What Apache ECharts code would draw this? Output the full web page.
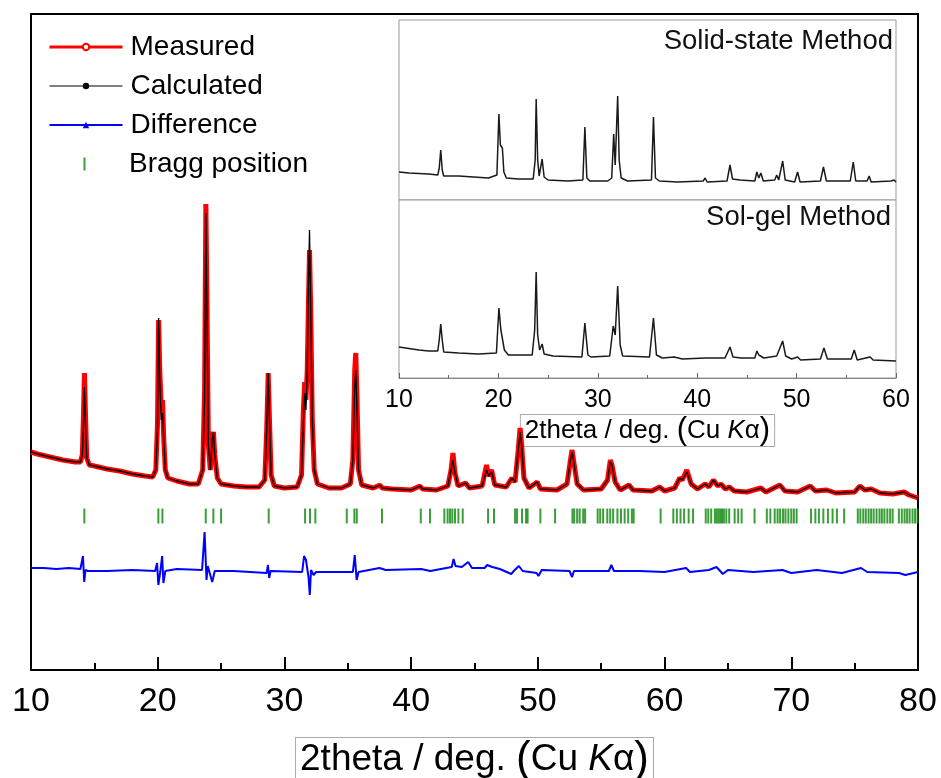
<!DOCTYPE html>
<html>
<head>
<meta charset="utf-8">
<title>XRD Rietveld refinement</title>
<script src="https://cdn.jsdelivr.net/npm/echarts@6.0.0/dist/echarts.min.js"></script>
<style>
  html, body { margin: 0; padding: 0; background: #fff; }
  #chart { width: 941px; height: 778px; }
</style>
</head>
<body>
<div id="chart"></div>
<script>
// main pattern: 2theta (deg) and intensity (a.u.)
const twoTheta = [
  10.0, 10.5, 11.0, 11.5, 12.0, 12.5, 13.0, 13.5, 13.9, 14.05, 14.13, 14.22, 14.31, 14.4, 14.6, 15.0,
  16.0, 17.0, 18.0, 19.0, 19.6, 19.85, 19.98, 20.07, 20.16, 20.28, 20.38, 20.48, 20.6, 20.8, 21.5, 22.5,
  23.2, 23.55, 23.7, 23.8, 23.9, 24.0, 24.15, 24.3, 24.4, 24.5, 24.7, 25.0, 26.0, 27.0, 28.0, 28.45,
  28.6, 28.72, 28.82, 28.95, 29.2, 30.0, 31.0, 31.35, 31.5, 31.6, 31.7, 31.8, 31.9, 31.98, 32.06, 32.2,
  32.35, 32.6, 33.5, 34.5, 35.2, 35.4, 35.55, 35.63, 35.72, 35.85, 36.1, 37.0, 37.55, 37.7, 38.5, 40.0,
  40.7, 40.9, 42.0, 42.9, 43.15, 43.3, 43.45, 43.7, 44.3, 44.6, 45.6, 45.95, 46.1, 46.35, 46.6, 47.5,
  47.95, 48.2, 48.45, 48.6, 48.72, 48.9, 49.3, 49.95, 50.2, 51.5, 52.3, 52.55, 52.7, 52.85, 53.1, 53.6,
  55.0, 55.5, 55.72, 55.85, 56.1, 56.5, 57.2, 57.5, 59.0, 59.6, 60.0, 60.8, 61.2, 61.4, 61.75, 62.1,
  62.6, 63.2, 63.5, 63.85, 64.2, 64.45, 64.8, 65.1, 65.5, 66.5, 67.6, 68.0, 69.1, 69.5, 70.5, 71.5,
  71.9, 72.8, 73.5, 75.0, 75.4, 75.8, 76.3, 77.0, 78.0, 78.9, 79.3, 80.0
];
const measured = [
  218, 216, 214.5, 213, 211.5, 210, 209, 208, 208, 215, 250, 297, 250, 212, 205, 204,
  201, 199, 196, 194, 193, 200, 245, 350, 300, 262, 270, 230, 200, 192, 189, 186,
  186, 200, 280, 466, 350, 225, 200, 230, 238, 215, 192, 186, 184, 183, 183, 190,
  240, 297, 250, 195, 184, 182, 183, 195, 262, 288, 270, 300, 370, 420, 370, 250,
  200, 186, 182, 182, 186, 210, 300, 317, 275, 200, 185, 182, 185, 182, 181, 180,
  184, 181, 180, 184, 200, 217, 198, 184, 187, 182, 184, 205, 194, 200, 185, 183,
  192, 188, 220, 242, 225, 192, 182, 188, 181, 180, 186, 208, 220, 207, 186, 180,
  181, 190, 210, 205, 188, 180, 185, 180, 179, 183, 179, 182, 192, 190, 200, 186,
  181, 186, 183, 190, 184, 186, 181, 183, 179, 178, 182, 178, 185, 179, 178, 184,
  179, 180, 177, 178, 184, 180, 181, 177, 176, 178, 175, 172
];
const calculated = [
  218, 216, 214.5, 213, 211.5, 210, 209, 208, 208, 215, 240, 283, 240, 212, 205, 204,
  201, 199, 196, 194, 193, 200, 240, 352, 290, 250, 257, 230, 200, 192, 189, 186,
  186, 200, 270, 457, 340, 225, 200, 230, 238, 215, 192, 186, 184, 183, 183, 190,
  240, 297, 250, 195, 184, 182, 183, 195, 250, 277, 260, 300, 390, 440, 370, 250,
  200, 186, 182, 182, 186, 210, 285, 300, 260, 200, 185, 182, 185, 182, 181, 180,
  184, 181, 180, 184, 200, 210, 198, 184, 187, 182, 184, 200, 194, 198, 185, 183,
  192, 188, 220, 238, 225, 192, 182, 188, 181, 180, 186, 208, 218, 207, 186, 180,
  181, 190, 208, 205, 188, 180, 185, 180, 179, 183, 179, 182, 192, 190, 198, 186,
  181, 186, 183, 190, 184, 186, 181, 183, 179, 178, 182, 178, 185, 179, 178, 184,
  179, 180, 177, 178, 184, 180, 181, 177, 176, 178, 175, 172
];

// difference curve (offset)
const diffTheta = [
  10, 11, 12, 13, 13.9, 14.1, 14.2, 14.3, 14.5, 16, 18, 19.8, 19.95, 20.05, 20.2, 20.35,
  20.45, 20.6, 21.5, 23.5, 23.7, 23.85, 23.95, 24.3, 24.5, 26, 28.6, 28.7, 28.8, 28.9, 31.4, 31.55,
  31.7, 31.9, 32.0, 32.1, 32.3, 32.5, 35.4, 35.55, 35.7, 35.85, 37.5, 38, 40.8, 41.5, 43.2, 43.35,
  43.5, 44.0, 44.5, 44.8, 45.8, 46.0, 46.4, 47.0, 47.9, 48.1, 48.5, 48.8, 49.9, 50.05, 50.3, 52.5,
  52.7, 52.85, 55.6, 55.8, 56, 58, 60, 61.7, 62, 63.5, 64.1, 64.6, 65, 67, 69.3, 70,
  72, 74, 75.5, 76, 78.5, 79, 80
];
const difference = [
  102, 102, 101, 102, 101, 114, 88, 100, 99, 99, 100, 99, 107, 85, 98, 114,
  87, 99, 101, 100, 138, 90, 104, 88, 99, 99, 97, 105, 92, 99, 98, 114,
  110, 93, 75, 100, 95, 98, 98, 115, 90, 98, 102, 100, 101, 99, 103, 111,
  104, 103, 108, 102, 102, 105, 103, 101, 96, 99, 104, 99, 97, 94, 100, 99,
  93, 99, 99, 105, 99, 99, 98, 102, 98, 100, 103, 96, 100, 98, 100, 97,
  100, 97, 102, 98, 97, 95, 98
];

// Bragg reflection positions (deg)
const braggPos = [
  14.21, 20.05, 20.37, 23.79, 24.39, 25.0, 28.76, 31.63, 32.02, 32.44, 34.92, 35.52, 35.71, 37.7,
  40.76, 41.49, 42.62, 42.88, 43.07, 43.25, 43.46, 43.73, 44.07, 46.07, 46.54, 48.2, 48.36, 48.75,
  49.07, 49.19, 50.2, 51.36, 52.73, 52.87, 53.1, 53.3, 53.58, 53.73, 54.72, 54.92, 55.15, 55.48,
  55.71, 55.94, 56.28, 56.56, 56.85, 57.13, 57.42, 57.56, 59.69, 60.69, 60.97, 61.26, 61.54, 61.9,
  62.25, 63.25, 63.45, 63.68, 63.97, 64.11, 64.25, 64.39, 64.53, 64.68, 64.87, 65.1, 65.53, 65.81,
  66.08, 67.1, 68.07, 68.35, 68.69, 68.92, 69.12, 69.35, 69.54, 69.77, 70.0, 70.2, 70.42, 71.56,
  71.9, 72.18, 72.53, 72.89, 73.26, 73.6, 74.17, 75.25, 75.45, 75.68, 75.88, 76.1, 76.3, 76.5,
  76.73, 76.96, 77.15, 77.35, 77.58, 77.8, 78.0, 78.49, 78.72, 78.94, 79.14, 79.34, 79.57, 79.77, 79.97
];
const braggLevel = 154;

// inset: solid-state pattern
const solidTheta = [
  10, 11, 12, 13, 13.9, 14.05, 14.2, 14.35, 14.5, 16, 19, 19.85, 20.05, 20.2, 20.4, 20.55,
  20.8, 22, 23.5, 23.7, 23.8, 23.95, 24.1, 24.4, 24.6, 25, 27, 28.5, 28.7, 28.9, 29.2, 31,
  31.4, 31.6, 31.75, 32.0, 32.15, 32.35, 33, 35.4, 35.6, 35.8, 36.2, 38, 40.6, 40.8, 41, 43.0,
  43.3, 43.55, 44.3, 45.8, 46.0, 46.2, 46.4, 46.65, 47.8, 48.0, 48.2, 48.6, 48.85, 49.8, 50.1, 50.35,
  52.4, 52.7, 53.0, 55.4, 55.7, 55.95, 57.1, 57.3, 57.5, 59.5, 59.8, 60
];
const solidInt = [
  28, 27, 26.5, 26, 25, 32, 50, 30, 24, 24, 22, 25, 86, 55, 52, 28,
  22, 21, 21, 40, 101, 40, 24, 41, 23, 20, 19, 20, 73, 22, 19, 19,
  22, 66, 35, 104, 40, 22, 19, 20, 83, 22, 19, 18, 19, 22, 18, 19,
  35, 21, 20, 19, 28, 22, 27, 19, 20, 25, 20, 39, 20, 18, 28, 18,
  19, 33, 19, 19, 38, 19, 19, 24, 18, 19, 20, 18
];

// inset: sol-gel pattern
const solgelTheta = [
  10, 11, 12, 13, 13.9, 14.05, 14.2, 14.35, 14.5, 16, 18, 19.8, 20.05, 20.25, 20.4, 20.6,
  21, 23.4, 23.65, 23.8, 23.95, 24.15, 24.4, 24.6, 25.5, 28.4, 28.7, 29.0, 29.3, 31.2, 31.55, 31.75,
  32.0, 32.25, 32.5, 35.2, 35.6, 35.9, 36.5, 37.7, 38.5, 40.8, 42.8, 43.3, 43.6, 44.4, 45.8, 46.0,
  46.2, 46.4, 46.7, 48.0, 48.6, 48.9, 49.5, 50.1, 50.4, 52.4, 52.75, 53.1, 55.5, 55.8, 56.1, 57.4,
  57.7, 60
];
const solgelInt = [
  31, 29.5, 28, 27, 27, 38, 54, 38, 26, 25, 24, 25, 70, 48, 46, 28,
  23, 23, 48, 106, 43, 28, 34, 24, 22, 21, 55, 23, 21, 22, 52, 43,
  92, 33, 22, 21, 60, 23, 20, 21, 19, 20, 20, 31, 21, 20, 20, 27,
  23, 25, 20, 22, 37, 22, 19, 21, 18, 19, 30, 19, 19, 28, 18, 21,
  18, 17
];

const xTicksMain = [10, 20, 30, 40, 50, 60, 70, 80];
const xTicksInset = [10, 20, 30, 40, 50, 60];

const FONT = "'Liberation Sans', Arial, sans-serif";
const zip = (xs, ys) => xs.map((x, i) => [x, ys[i]]);

const titleRich = (size, parenSize) => ({
  a: { fontSize: size, fontFamily: FONT, color: '#000' },
  p: { fontSize: parenSize, fontFamily: FONT, color: '#000' },
  k: { fontSize: size, fontFamily: FONT, fontStyle: 'italic', color: '#000' }
});
const titleText = '{a|2theta / deg. }{p|(}{a|Cu }{k|K}{a|α}{p|)}';

// legend icon for the Bragg ticks: thin bar centred in a 73x13 box
const braggIcon = 'path://M0,0h0.05v0.05h-0.05z M35.5,0h2v13h-2z M72.95,12.95h0.05v0.05h-0.05z';

const chart = echarts.init(document.getElementById('chart'));

const option = {
  backgroundColor: '#fff',
  animation: false,
  textStyle: { fontFamily: FONT },
  title: [
    { text: 'Solid-state Method', right: 48, top: 27, padding: 0,
      textStyle: { fontSize: 27.5, fontWeight: 'normal', color: '#111', fontFamily: FONT } },
    { text: 'Sol-gel Method', right: 50, top: 203, padding: 0,
      textStyle: { fontSize: 27.5, fontWeight: 'normal', color: '#111', fontFamily: FONT } }
  ],
  legend: [
    {
      data: [
        { name: 'Measured', lineStyle: { width: 3 } },
        { name: 'Calculated', lineStyle: { width: 1 } },
        { name: 'Difference', lineStyle: { width: 2 } }
      ],
      orient: 'vertical', left: 48, top: 32, padding: 0,
      itemWidth: 73, itemHeight: 8, itemGap: 9,
      textStyle: { fontSize: 28, lineHeight: 30, color: '#000', fontFamily: FONT, padding: [0, 0, 0, 3] }
    },
    {
      data: [{ name: 'Bragg position', icon: braggIcon, itemStyle: { color: '#0a860a' } }],
      orient: 'vertical', left: 48, top: 149, padding: 0,
      itemWidth: 73, itemHeight: 13, itemGap: 9,
      textStyle: { fontSize: 28, lineHeight: 30, color: '#000', fontFamily: FONT, padding: [0, 0, 0, 3] }
    }
  ],
  grid: [
    { left: 31, top: 14, right: 23, bottom: 108, outerBoundsMode: 'none', show: true,
      borderColor: '#000', borderWidth: 2, backgroundColor: '#fff' },
    { left: 399, top: 20, width: 497, height: 180, outerBoundsMode: 'none', show: true,
      borderColor: '#999', borderWidth: 1, backgroundColor: '#fff' },
    { left: 399, top: 200, width: 497, height: 178, outerBoundsMode: 'none', show: true,
      borderColor: '#999', borderWidth: 1, backgroundColor: '#fff' }
  ],
  xAxis: [
    {
      gridIndex: 0, type: 'value', min: 10, max: 80, interval: 10,
      name: titleText, nameLocation: 'middle', nameGap: 68,
      nameTextStyle: {
        rich: titleRich(37, 44), borderColor: '#aaa', borderWidth: 1,
        backgroundColor: '#fff', padding: [0, 4, 0, 4]
      },
      axisLine: { lineStyle: { color: '#000', width: 2 } },
      axisTick: { inside: true, length: 13, lineStyle: { color: '#000', width: 2 } },
      minorTick: { show: true, splitNumber: 2, length: 7, lineStyle: { color: '#000', width: 2 } },
      axisLabel: {
        fontSize: 34, color: '#000', margin: 15, fontFamily: FONT,
        formatter: v => (xTicksMain.indexOf(v) >= 0 ? String(v) : '')
      },
      splitLine: { show: false }
    },
    {
      gridIndex: 1, type: 'value', min: 10, max: 60, interval: 10, show: false
    },
    {
      gridIndex: 2, type: 'value', min: 10, max: 60, interval: 10,
      name: titleText, nameLocation: 'middle', nameGap: 33,
      nameTextStyle: {
        rich: titleRich(26, 31), borderColor: '#aaa', borderWidth: 1,
        backgroundColor: '#fff', padding: [0, 4, 0, 4]
      },
      axisLine: { lineStyle: { color: '#888', width: 1 } },
      axisTick: { inside: true, length: 5, lineStyle: { color: '#666' } },
      minorTick: { show: true, splitNumber: 2, length: 3, lineStyle: { color: '#666' } },
      axisLabel: {
        fontSize: 25, color: '#000', margin: 10, fontFamily: FONT,
        formatter: v => (xTicksInset.indexOf(v) >= 0 ? String(v) : '')
      },
      splitLine: { show: false }
    }
  ],
  yAxis: [
    { gridIndex: 0, type: 'value', min: 0, max: 656, show: false, splitLine: { show: false } },
    { gridIndex: 1, type: 'value', min: 0, max: 180, show: false, splitLine: { show: false } },
    { gridIndex: 2, type: 'value', min: 0, max: 178, show: false, splitLine: { show: false } }
  ],
  series: [
    {
      name: 'Measured', type: 'line', xAxisIndex: 0, yAxisIndex: 0,
      data: zip(twoTheta, measured),
      symbol: 'emptyCircle', showSymbol: false,
      lineStyle: { color: '#f00', width: 5 }, itemStyle: { color: '#f00' }
    },
    {
      name: 'Calculated', type: 'line', xAxisIndex: 0, yAxisIndex: 0,
      data: zip(twoTheta, calculated),
      symbol: 'circle', showSymbol: false,
      lineStyle: { color: '#000', width: 1.3 }, itemStyle: { color: '#000' }
    },
    {
      name: 'Difference', type: 'line', xAxisIndex: 0, yAxisIndex: 0,
      data: zip(diffTheta, difference),
      symbol: 'triangle', showSymbol: false,
      lineStyle: { color: '#00f', width: 2 }, itemStyle: { color: '#00f' }
    },
    {
      name: 'Bragg position', type: 'scatter', xAxisIndex: 0, yAxisIndex: 0,
      data: braggPos.map(p => [p, braggLevel]),
      symbol: 'rect', symbolSize: [2, 15],
      itemStyle: { color: '#0a860a' }
    },
    {
      name: 'Solid-state', type: 'line', xAxisIndex: 1, yAxisIndex: 1,
      data: zip(solidTheta, solidInt), showSymbol: false,
      lineStyle: { color: '#1a1a1a', width: 1.5 }
    },
    {
      name: 'Sol-gel', type: 'line', xAxisIndex: 2, yAxisIndex: 2,
      data: zip(solgelTheta, solgelInt), showSymbol: false,
      lineStyle: { color: '#1a1a1a', width: 1.5 }
    }
  ]
};

chart.setOption(option);
</script>
</body>
</html>
